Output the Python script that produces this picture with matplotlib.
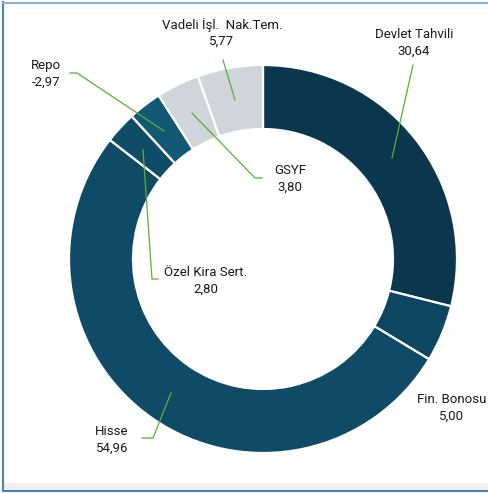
import matplotlib
matplotlib.use("Agg")
import matplotlib.pyplot as plt
from matplotlib.patches import Rectangle
from matplotlib.lines import Line2D

categories = ["Devlet Tahvili", "Fin. Bonosu", "Hisse", "Özel Kira Sert.", "Repo", "GSYF", "Vadeli İşl.  Nak.Tem."]
values = [30.64, 5.00, 54.96, 2.80, -2.97, 3.80, 5.77]
value_labels = ["30,64", "5,00", "54,96", "2,80", "-2,97", "3,80", "5,77"]
colors = ["#0a374d", "#0d4660", "#0f4b66", "#0f4c68", "#125874", "#d0d5db", "#d0d5db"]

W, H = 489, 493
fig = plt.figure(figsize=(W / 100, H / 100), dpi=100)
fig.patch.set_facecolor("white")

cx, cy, R = 263, 259, 194
ax = fig.add_axes([(cx - R) / W, 1 - (cy + R) / H, 2 * R / W, 2 * R / H])
ax.axis("off")

sizes = [abs(v) for v in values]
ax.pie(sizes, colors=colors, startangle=90, counterclock=False, radius=1,
       wedgeprops=dict(width=0.33, edgecolor="white", linewidth=1.6))
ax.set_xlim(-1, 1)
ax.set_ylim(-1, 1)
ax.set_aspect("auto")


def d(px, py):
    return ((px - cx) / R, (cy - py) / R)


font = dict(family="Roboto", fontsize=9.5, color="#1a1a1a")
green = "#5ab031"

# label centre (px) and leader line points (px)
labels = {
    "Devlet Tahvili": ((414, 43), [(413, 65), (392, 158)]),
    "Fin. Bonosu": ((452, 408), None),
    "Hisse": ((112, 440), [(142, 438), (153, 438), (171, 393)]),
    "Özel Kira Sert.": ((206, 281), [(158, 279), (152, 279), (143, 150)]),
    "Repo": ((46, 74), [(70, 73), (77, 73), (164, 131)]),
    "GSYF": ((290, 179), [(262, 178), (255, 178), (192, 113)]),
    "Vadeli İşl.  Nak.Tem.": ((222, 33), [(223, 60), (235, 100)]),
}

for cat, vl in zip(categories, value_labels):
    (px, py), pts = labels[cat]
    x, y = d(px, py)
    ax.text(x, y, cat + "\n" + vl, ha="center", va="center", linespacing=1.35,
            multialignment="center", clip_on=False, **font)
    if pts:
        xs = [d(*p)[0] for p in pts]
        ys = [d(*p)[1] for p in pts]
        ax.add_line(Line2D(xs, ys, color=green, lw=0.9, clip_on=False))

# frame decorations
fig.patches.append(Rectangle((4 / W, 1 - 490 / H), 1, 7 / H, transform=fig.transFigure,
                             facecolor="#f0f0f0", edgecolor="none", zorder=0))
fig.add_artist(Line2D([3.5 / W, 3.5 / W], [1 - 490 / H, 1 - 2 / H], color="#4f7fb6", lw=1.5, transform=fig.transFigure))
fig.add_artist(Line2D([3 / W, 1], [1 - 2.5 / H, 1 - 2.5 / H], color="#8fb0d6", lw=1.5, transform=fig.transFigure))
fig.add_artist(Line2D([3 / W, 1], [1 - 490.5 / H, 1 - 490.5 / H], color="#4f7fb6", lw=1.5, transform=fig.transFigure))

fig.savefig("out.png", dpi=100)
